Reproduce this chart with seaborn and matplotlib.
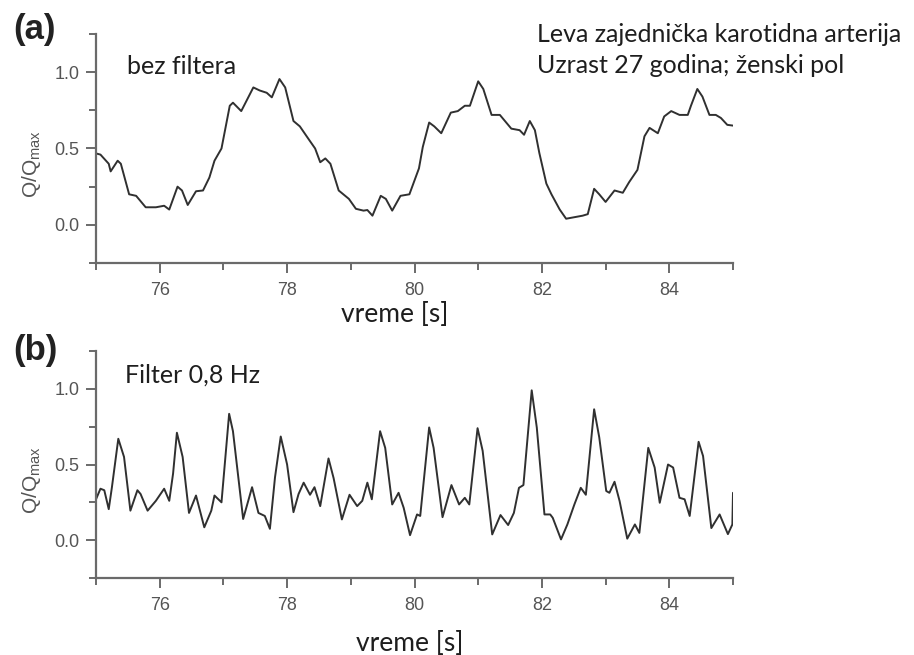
import matplotlib
matplotlib.use("Agg")
import matplotlib.pyplot as plt
from matplotlib.ticker import MultipleLocator, FixedLocator
import seaborn as sns
import pandas as pd

# ---------------- data ----------------
time_a = [74.98, 75.07, 75.20, 75.23, 75.34, 75.39, 75.52, 75.63, 75.78, 75.94,
          76.07, 76.15, 76.28, 76.35, 76.44, 76.57, 76.68, 76.78, 76.86, 76.97,
          77.10, 77.15, 77.28, 77.47, 77.57, 77.68, 77.76, 77.88, 77.97, 78.10,
          78.20, 78.34, 78.44, 78.52, 78.60, 78.68, 78.81, 78.97, 79.08, 79.20,
          79.26, 79.34, 79.47, 79.55, 79.65, 79.78, 79.92, 80.07, 80.13, 80.23,
          80.31, 80.42, 80.57, 80.68, 80.79, 80.87, 81.00, 81.08, 81.21, 81.34,
          81.52, 81.65, 81.72, 81.81, 81.89, 81.96, 82.07, 82.15, 82.28, 82.38,
          82.51, 82.64, 82.72, 82.82, 82.90, 83.00, 83.14, 83.27, 83.37, 83.50,
          83.61, 83.69, 83.82, 83.92, 84.03, 84.16, 84.29, 84.34, 84.44, 84.52,
          84.63, 84.73, 84.81, 84.91, 85.00]
q_a = [0.47, 0.46, 0.40, 0.35, 0.42, 0.40, 0.20, 0.19, 0.115, 0.115,
       0.125, 0.10, 0.25, 0.225, 0.13, 0.22, 0.225, 0.31, 0.42, 0.50,
       0.78, 0.80, 0.745, 0.90, 0.88, 0.865, 0.835, 0.955, 0.90, 0.68,
       0.645, 0.56, 0.50, 0.41, 0.435, 0.40, 0.225, 0.17, 0.105, 0.093,
       0.097, 0.06, 0.19, 0.17, 0.093, 0.19, 0.20, 0.37, 0.51, 0.67,
       0.645, 0.60, 0.735, 0.745, 0.78, 0.78, 0.94, 0.89, 0.72, 0.72,
       0.63, 0.62, 0.59, 0.68, 0.62, 0.47, 0.27, 0.20, 0.10, 0.04,
       0.05, 0.06, 0.07, 0.236, 0.20, 0.15, 0.225, 0.21, 0.28, 0.36,
       0.58, 0.635, 0.60, 0.71, 0.745, 0.72, 0.72, 0.78, 0.89, 0.84,
       0.72, 0.72, 0.70, 0.655, 0.65]

time_b = [74.98, 75.07, 75.13, 75.20, 75.25, 75.35, 75.44, 75.54, 75.65, 75.70,
          75.81, 75.94, 76.07, 76.15, 76.21, 76.27, 76.36, 76.46, 76.57, 76.70,
          76.81, 76.86, 76.97, 77.09, 77.15, 77.31, 77.45, 77.55, 77.65, 77.73,
          77.81, 77.90, 78.00, 78.10, 78.18, 78.26, 78.36, 78.43, 78.52, 78.65,
          78.73, 78.86, 78.98, 79.10, 79.18, 79.26, 79.33, 79.46, 79.54, 79.65,
          79.75, 79.83, 79.93, 80.04, 80.09, 80.23, 80.30, 80.44, 80.58, 80.70,
          80.79, 80.86, 80.99, 81.07, 81.22, 81.35, 81.47, 81.56, 81.64, 81.71,
          81.84, 81.92, 82.04, 82.13, 82.17, 82.30, 82.40, 82.51, 82.61, 82.69,
          82.82, 82.90, 83.01, 83.06, 83.14, 83.22, 83.34, 83.46, 83.53, 83.67,
          83.77, 83.85, 83.98, 84.06, 84.16, 84.24, 84.32, 84.46, 84.53, 84.66,
          84.79, 84.92, 84.99, 85.00]
q_b = [0.25, 0.34, 0.33, 0.205, 0.35, 0.67, 0.55, 0.195, 0.33, 0.305,
       0.195, 0.26, 0.34, 0.26, 0.44, 0.71, 0.55, 0.18, 0.295, 0.085,
       0.195, 0.295, 0.25, 0.835, 0.72, 0.14, 0.35, 0.18, 0.16, 0.075,
       0.415, 0.685, 0.50, 0.185, 0.305, 0.38, 0.30, 0.35, 0.225, 0.54,
       0.41, 0.137, 0.30, 0.225, 0.26, 0.38, 0.27, 0.72, 0.61, 0.236,
       0.313, 0.214, 0.033, 0.17, 0.16, 0.745, 0.61, 0.152, 0.364, 0.236,
       0.28, 0.236, 0.74, 0.59, 0.038, 0.166, 0.10, 0.18, 0.346, 0.364,
       0.99, 0.744, 0.17, 0.17, 0.148, 0.005, 0.104, 0.236, 0.346, 0.30,
       0.865, 0.68, 0.325, 0.313, 0.386, 0.258, 0.01, 0.104, 0.048, 0.61,
       0.48, 0.247, 0.50, 0.48, 0.28, 0.27, 0.16, 0.65, 0.556, 0.08,
       0.17, 0.04, 0.104, 0.313]

x_major_ticks = [76, 78, 80, 82, 84]
y_major_ticks = [0.0, 0.5, 1.0]
x_label = "vreme [s]"
y_label = "Q/Q$_{\\mathrm{max}}$"
panel_labels = ["(a)", "(b)"]
panel_notes = ["bez filtera", "Filter 0,8 Hz"]
info_lines = ["Leva zajednička karotidna arterija", "Uzrast 27 godina; ženski pol"]

# ---------------- styling ----------------
sns.set_style("ticks")
plt.rcParams["font.family"] = ["Liberation Sans", "DejaVu Sans"]
plt.rcParams["mathtext.fontset"] = "custom"
plt.rcParams["mathtext.rm"] = "Liberation Sans"
plt.rcParams["mathtext.it"] = "Liberation Sans"

W, H = 914, 655
fig = plt.figure(figsize=(W / 100, H / 100), dpi=100)

axis_grey = "#6a6a6a"
text_grey = "#555555"
line_col = "#303030"
calibri_like = ["Lato", "DejaVu Sans"]

def px_rect(l, t, r, b):
    return [l / W, 1 - b / H, (r - l) / W, (b - t) / H]

ax_a = fig.add_axes(px_rect(96, 34, 733, 263))
ax_b = fig.add_axes(px_rect(96, 351, 733, 578))

df_a = pd.DataFrame({"t": time_a, "q": q_a})
df_b = pd.DataFrame({"t": time_b, "q": q_b})

for ax, df in ((ax_a, df_a), (ax_b, df_b)):
    sns.lineplot(data=df, x="t", y="q", ax=ax, sort=False, estimator=None,
                 color=line_col, linewidth=1.4)
    ax.set_xlim(75, 85)
    ax.set_ylim(-0.25, 1.25)
    sns.despine(ax=ax)
    for sp in ("left", "bottom"):
        ax.spines[sp].set_color(axis_grey)
        ax.spines[sp].set_linewidth(1.6)
    ax.xaxis.set_major_locator(FixedLocator(x_major_ticks))
    ax.xaxis.set_minor_locator(MultipleLocator(1))
    ax.yaxis.set_major_locator(FixedLocator(y_major_ticks))
    ax.yaxis.set_minor_locator(MultipleLocator(0.25))
    ax.tick_params(axis="both", which="major", direction="out", length=7,
                   width=1.4, color=axis_grey, labelcolor=text_grey, labelsize=13)
    ax.tick_params(axis="both", which="minor", direction="out", length=5,
                   width=1.4, color=axis_grey)
    ax.tick_params(axis="x", which="major", pad=7)
    ax.tick_params(axis="y", which="major", pad=5)
    ax.set_xlabel("")
    ax.set_ylabel(y_label, color=text_grey, fontsize=15)
    ax.yaxis.set_label_coords(-0.083, 0.43)

# x labels (Calibri-like, placed as in the reference)
fig.text(395 / W, 1 - 322 / H, x_label, ha="center", va="baseline",
         fontsize=19, family=calibri_like, color="#1e1e1e")
fig.text(410 / W, 1 - 651 / H, x_label, ha="center", va="baseline",
         fontsize=19, family=calibri_like, color="#1e1e1e")

# panel letters
fig.text(13 / W, 1 - 39 / H, panel_labels[0], ha="left", va="baseline",
         fontsize=25, fontweight="bold", color="#222222")
fig.text(13 / W, 1 - 360 / H, panel_labels[1], ha="left", va="baseline",
         fontsize=25, fontweight="bold", color="#222222")

# panel notes
fig.text(127 / W, 1 - 74 / H, panel_notes[0], ha="left", va="baseline",
         fontsize=18, family=calibri_like, color="#1e1e1e")
fig.text(125 / W, 1 - 383 / H, panel_notes[1], ha="left", va="baseline",
         fontsize=18, family=calibri_like, color="#1e1e1e")

# info lines
fig.text(537 / W, 1 - 42 / H, info_lines[0], ha="left", va="baseline",
         fontsize=18, family=calibri_like, color="#1e1e1e")
fig.text(537 / W, 1 - 73 / H, info_lines[1], ha="left", va="baseline",
         fontsize=18, family=calibri_like, color="#1e1e1e")

fig.savefig("out.png", dpi=100, facecolor="white")
